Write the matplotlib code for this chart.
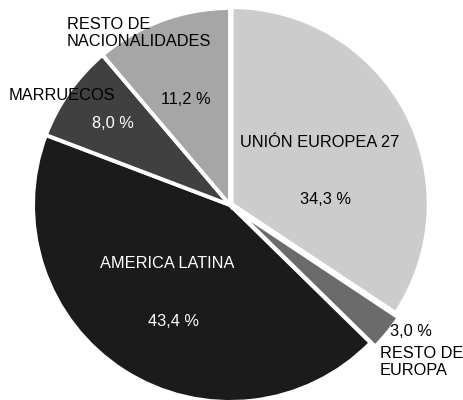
import matplotlib.pyplot as plt

plt.rcParams['font.family'] = ['Liberation Sans', 'DejaVu Sans']

# data
regiones = ['UNIÓN EUROPEA 27', 'RESTO DE\nEUROPA', 'AMERICA LATINA', 'MARRUECOS', 'RESTO DE\nNACIONALIDADES']
porcentajes = [34.3, 3.0, 43.4, 8.0, 11.2]
colores = ['#cccccc', '#6b6b6b', '#1b1b1b', '#404040', '#a6a6a6']

# pie center / radius in pixels, used to place the text
CX, CY, R = 230, 205, 195


def px(x, y):
    return (x - CX) / R, (CY - y) / R


# text layout in pixels
pos_nombre = [(320, 143), (380, 362), (167, 264), (62, 96), (67, 33)]
pos_pct = [(326, 200), (411, 332), (173, 322), (113, 124), (186, 100)]
alin_nombre = ['center', 'left', 'center', 'center', 'left']
col_texto = ['black', 'black', 'white', 'black', 'black']
col_pct = ['black', 'black', 'white', 'white', 'black']

fig = plt.figure(figsize=(4.63, 4.0), dpi=100)
ax = fig.add_axes([0, 0, 1, 1])

ax.pie(porcentajes, colors=colores, startangle=90, counterclock=False,
       explode=[0.01, 0.03, 0, 0, 0], radius=1.01,
       wedgeprops=dict(edgecolor='white', linewidth=2.8))

for i in range(len(regiones)):
    x, y = px(*pos_nombre[i])
    ax.text(x, y, regiones[i], ha=alin_nombre[i], va='center',
            fontsize=11.8, color=col_texto[i], linespacing=1.2)
    x, y = px(*pos_pct[i])
    ax.text(x, y, ('%.1f %%' % porcentajes[i]).replace('.', ','),
            ha='center', va='center', fontsize=11.8, color=col_pct[i])

ax.set_xlim(-CX / R, (463 - CX) / R)
ax.set_ylim(-(400 - CY) / R, CY / R)
ax.set_aspect('auto')
ax.axis('off')

fig.savefig('out.png', dpi=100)
